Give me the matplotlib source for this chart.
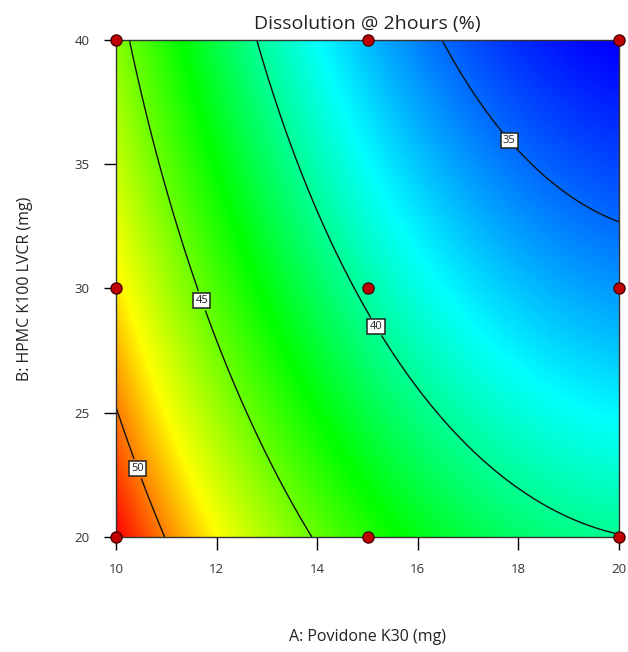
import numpy as np
import matplotlib.pyplot as plt
from matplotlib.colors import LinearSegmentedColormap

# Design points (A: Povidone K30, B: HPMC K100 LVCR) and measured dissolution
povidone = [10, 15, 20]
hpmc = [20, 30, 40]
dissolution = [
    [51.98, 43.65, 40.00],   # B = 20
    [48.36, 39.67, 35.95],   # B = 30
    [45.65, 36.59, 32.79],   # B = 40
]
levels = [35, 40, 45, 50]

# colour ramp anchors (response value -> colour)
ramp_values = [32.8, 38.0, 42.8, 48.0, 52.0]
ramp_colors = ['#0000ff', '#00ffff', '#00ff00', '#ffff00', '#ff0000']

plt.rcParams['font.family'] = ['Open Sans', 'DejaVu Sans']

# quadratic response surface model fitted to the design points (coded units)
A, B = np.meshgrid(povidone, hpmc)
a = (A.ravel() - 15) / 5.0
b = (B.ravel() - 30) / 10.0
X = np.column_stack([np.ones_like(a), a, b, a * b, a ** 2, b ** 2])
coef, *_ = np.linalg.lstsq(X, np.array(dissolution).ravel(), rcond=None)

gx = np.linspace(10, 20, 300)
gy = np.linspace(20, 40, 300)
GX, GY = np.meshgrid(gx, gy)
ga = (GX - 15) / 5.0
gb = (GY - 30) / 10.0
Z = (coef[0] + coef[1] * ga + coef[2] * gb + coef[3] * ga * gb
     + coef[4] * ga ** 2 + coef[5] * gb ** 2)

vmin, vmax = ramp_values[0], ramp_values[-1]
pos = [(v - vmin) / (vmax - vmin) for v in ramp_values]
cmap = LinearSegmentedColormap.from_list('de', list(zip(pos, ramp_colors)))

fig = plt.figure(figsize=(6.28, 6.52), dpi=100)
ax = fig.add_axes([0.1847, 0.1764, 0.801, 0.7623])

ax.pcolormesh(GX, GY, Z, cmap=cmap, shading='gouraud', vmin=vmin, vmax=vmax)
cs = ax.contour(GX, GY, Z, levels=levels, colors='#111111', linewidths=1.0)
labels = ax.clabel(cs, fmt='%d', fontsize=8, inline=True, inline_spacing=4,
                   manual=[(17.9, 36.1), (15.2, 28.5), (11.7, 29.5), (10.5, 22.8)])
for t in labels:
    t.set_bbox(dict(boxstyle='square,pad=0.2', facecolor='white',
                    edgecolor='#222222', linewidth=1.1))
    t.set_rotation(0)
    t.set_color('#222222')

ax.plot(A.ravel(), B.ravel(), 'o', color='#c00000', markeredgecolor='#4a0000',
        markersize=8, markeredgewidth=1, clip_on=False, zorder=5)

ax.set_xlim(10, 20)
ax.set_ylim(20, 40)
ax.set_xticks([10, 12, 14, 16, 18, 20])
ax.set_yticks([20, 25, 30, 35, 40])
ax.tick_params(direction='out', length=9, width=1, labelsize=9.5,
               labelcolor='#333333', pad=10)
for s in ax.spines.values():
    s.set_linewidth(1)
    s.set_color('#333333')

ax.set_title('Dissolution @ 2hours (%)', fontsize=14, color='#222222', pad=8)
ax.set_xlabel('A: Povidone K30 (mg)', fontsize=11.5, color='#222222', labelpad=38)
ax.set_ylabel('B: HPMC K100 LVCR (mg)', fontsize=11.5, color='#222222', labelpad=30)

plt.savefig('out.png', dpi=100)
